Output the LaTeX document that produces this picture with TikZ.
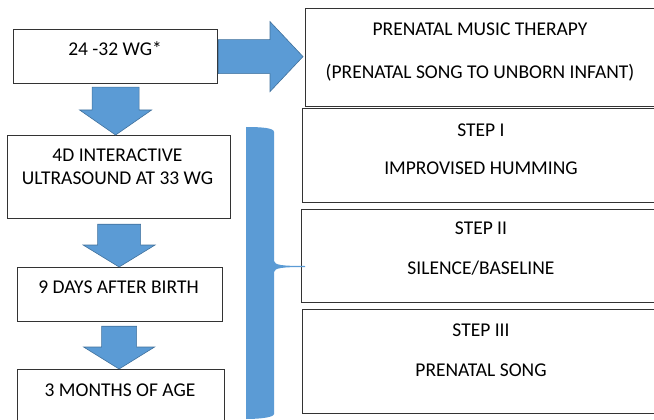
\documentclass[tikz,border=0pt]{standalone}
\usepackage{fontspec}
\setmainfont{Carlito}
\usetikzlibrary{calc}
\definecolor{ablue}{HTML}{5B9BD5}
\definecolor{aedge}{HTML}{41719C}
\newcommand\vblock[5]{\draw[barrow] ($(#1)+(-#3,0)$) -- ($(#2)+(-#3,-#5)$) -- ($(#2)+(-#4,-#5)$) -- (#2) -- ($(#2)+(#4,-#5)$) -- ($(#2)+(#3,-#5)$) -- ($(#1)+(#3,0)$) -- cycle;}
\newcommand\hblock[5]{\draw[barrow] ($(#1)+(0,-#3)$) -- ($(#2)+(-#5,-#3)$) -- ($(#2)+(-#5,-#4)$) -- (#2) -- ($(#2)+(-#5,#4)$) -- ($(#2)+(-#5,#3)$) -- ($(#1)+(0,#3)$) -- cycle;}
\begin{document}
\begin{tikzpicture}[x=1pt,y=-1pt,
  box/.style={draw=black!80,line width=1.2pt,fill=white,inner sep=0pt,anchor=north west},
  txt/.style={font=\fontsize{19.5}{22}\selectfont,inner sep=0pt,anchor=base},
  barrow/.style={fill=ablue,draw=aedge,line width=0.6pt}]
\useasboundingbox (0,0) rectangle (654,420);
% left column boxes
\node[box,minimum width=204pt,minimum height=54pt] (a) at (13,29) {};
\node[box,minimum width=223pt,minimum height=83pt] (b) at (7,135) {};
\node[box,minimum width=205pt,minimum height=54pt] (c) at (17,267) {};
\node[box,minimum width=207pt,minimum height=62pt] (d) at (17,369) {};
% right column boxes
\node[box,minimum width=356pt,minimum height=98pt] (p) at (305,8) {};
\node[box,minimum width=358pt,minimum height=94pt] (s1) at (302,108) {};
\node[box,minimum width=359pt,minimum height=93pt] (s2) at (301,209) {};
\node[box,minimum width=358pt,minimum height=104pt] (s3) at (302,309) {};
% texts
\node[txt] (ta) at (115,56) {24 -32 WG*};
\node[txt] (tb1) at (117.5,161) {4D INTERACTIVE};
\node[txt] (tb2) at (117.5,184) {ULTRASOUND AT 33 WG};
\node[txt] (tc) at (118.5,293) {9 DAYS AFTER BIRTH};
\node[txt] (td) at (120,396) {3 MONTHS OF AGE};
\node[txt] (tp1) at (480,36) {PRENATAL MUSIC THERAPY};
\node[txt] (tp2) at (480,78) {(PRENATAL SONG TO UNBORN INFANT)};
\node[txt] (t11) at (481,136) {STEP I};
\node[txt] (t12) at (481,175) {IMPROVISED HUMMING};
\node[txt] (t21) at (481,234) {STEP II};
\node[txt] (t22) at (481,274) {SILENCE/BASELINE};
\node[txt] (t31) at (481,336) {STEP III};
\node[txt] (t32) at (481,376) {PRENATAL SONG};
% block arrows
\coordinate (st1) at ($(a.south)+(0,3)$);
\coordinate (en1) at (st1 |- b.north);
\vblock{st1}{en1}{23.5}{36}{25}
\coordinate (st2) at ($(b.south)+(0,5)$);
\coordinate (en2) at (st2 |- c.north);
\vblock{st2}{en2}{21.5}{36}{22}
\coordinate (st3) at ($(c.south)+(-1,4)$);
\coordinate (en3) at (st3 |- d.north);
\vblock{st3}{en3}{17.5}{35.5}{22}
\coordinate (st4) at (a.east);
\coordinate (en4) at ($(st4 -| p.west)+(-2,0)$);
\hblock{st4}{en4}{17}{35}{33}
% brace
\fill[ablue] (246,127) .. controls (262,127) and (274,128) .. (274,132) -- (274,261)
  .. controls (275,265) and (281,266) .. (305,266) -- (305,267)
  .. controls (281,267) and (275,268) .. (274,272) -- (274,414)
  .. controls (274,417) and (262,419) .. (246,419) -- cycle;
\end{tikzpicture}
\end{document}
